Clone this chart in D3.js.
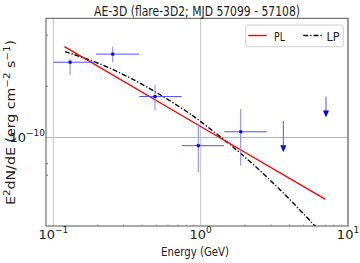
<!DOCTYPE html>
<html><head><meta charset="utf-8">
<script src="https://cdn.jsdelivr.net/npm/d3@7"></script>
<style>body{margin:0;background:#fff}svg{display:block}text{font-family:"DejaVu Sans",sans-serif;fill:#222}</style>
</head><body><svg id="c" width="360" height="263"></svg>
<script>
// ---- data ----
const titleText = "AE-3D (flare-3D2; MJD 57099 - 57108)";
const xLabelText = "Energy (GeV)";
const xTicks = [0.1, 1, 10];
const xTickExp = ["\u22121", "0", "1"];
const yTicks = [1e-10];
const yTickExp = ["\u221210"];
const yMinorTicks = [6e-11, 7e-11, 2e-10, 4e-10];
// flux points
const ptE    = [0.130, 0.253, 0.490, 0.964, 1.87];
const ptELo  = [0.100, 0.195, 0.383, 0.744, 1.447];
const ptEHi  = [0.189, 0.382, 0.744, 1.44, 2.81];
const ptF    = [2.77e-10, 3.09e-10, 1.74e-10, 8.95e-11, 1.08e-10];
const ptFLo  = [2.33e-10, 2.77e-10, 1.45e-10, 6.24e-11, 6.83e-11];
const ptFHi  = [2.90e-10, 3.42e-10, 2.04e-10, 1.21e-10, 1.47e-10];
// upper limits
const ulE    = [3.64, 7.09];
const ulTop  = [1.25e-10, 1.74e-10];
const ulTip  = [8.18e-11, 1.31e-10];
// model curves
const plE = [0.119, 1.0, 7.0];
const plF = [3.42e-10, 1.16e-10, 4.34e-11];
const lpE = [0.120, 0.200, 0.316, 0.500, 0.794, 1.0, 1.585, 2.512, 3.98, 6.31, 7.0];
const lpF = [3.20e-10, 2.74e-10, 2.29e-10, 1.84e-10, 1.43e-10, 1.24e-10, 9.08e-11, 6.41e-11, 4.36e-11, 2.86e-11, 2.59e-11];
const legendNames = ["PL", "LP"];

// ---- layout ----
const L = 46, R = 348, T = 18.3, B = 226;
const svg = d3.select("#c");
const x = d3.scaleLog().domain([0.0892, 10]).range([L, R]);
const y = d3.scaleLog().domain([3.015e-11, 5.02e-10]).range([B, T]);

svg.append("defs").append("clipPath").attr("id","clip")
  .append("rect").attr("x",L).attr("y",T).attr("width",R-L).attr("height",B-T);

// grid
const g = svg.append("g");
g.selectAll(".gx").data(xTicks).join("line")
  .attr("x1",d=>x(d)).attr("x2",d=>x(d)).attr("y1",T).attr("y2",B)
  .attr("stroke","#c4c4c4").attr("stroke-width",1);
g.selectAll(".gy").data(yTicks).join("line")
  .attr("x1",L).attr("x2",R).attr("y1",d=>y(d)).attr("y2",d=>y(d))
  .attr("stroke","#b4b4b4").attr("stroke-width",1);

// x minor ticks
const xMinor = [];
[0.1,1].forEach(b=>{for(let k=2;k<10;k++) xMinor.push(b*k);});
g.selectAll(".mx").data(xMinor).join("line")
  .attr("x1",d=>x(d)).attr("x2",d=>x(d)).attr("y1",B).attr("y2",B-2)
  .attr("stroke","#999").attr("stroke-width",0.6);
// y minor ticks
g.selectAll(".my").data(yMinorTicks).join("line")
  .attr("x1",L).attr("x2",L+2).attr("y1",d=>y(d)).attr("y2",d=>y(d))
  .attr("stroke","#555").attr("stroke-width",0.8);

// curves
const line = d3.line().x(d=>x(d[0])).y(d=>y(d[1])).curve(d3.curveCatmullRom);
const cg = svg.append("g").attr("clip-path","url(#clip)");
cg.append("path").datum(lpE.map((e,i)=>[e,lpF[i]])).attr("d",line)
  .attr("fill","none").attr("stroke","#000").attr("stroke-width",1.4)
  .attr("stroke-dasharray","5,2,1.2,2");
cg.append("path").datum(plE.map((e,i)=>[e,plF[i]])).attr("d",d3.line().x(d=>x(d[0])).y(d=>y(d[1])))
  .attr("fill","none").attr("stroke","#ff0000").attr("stroke-width",1.4);

// error bars
const eb = svg.append("g");
ptE.forEach((e,i)=>{
  eb.append("line").attr("x1",x(e)).attr("x2",x(e)).attr("y1",y(ptFLo[i])).attr("y2",y(ptFHi[i]))
    .attr("stroke","#8080ff").attr("stroke-width",1);
  eb.append("line").attr("x1",x(ptELo[i])).attr("x2",x(ptEHi[i])).attr("y1",y(ptF[i])).attr("y2",y(ptF[i]))
    .attr("stroke","#5050ff").attr("stroke-width",1);
  eb.append("rect").attr("x",x(e)-1.5).attr("y",y(ptF[i])-1.5).attr("width",3).attr("height",3)
    .attr("fill","#0000ff");
});
ulE.forEach((e,i)=>{
  const xp = x(e), yt = y(ulTop[i]), yb = y(ulTip[i]);
  eb.append("line").attr("x1",xp).attr("x2",xp).attr("y1",yt).attr("y2",yb-5)
    .attr("stroke","#5050ff").attr("stroke-width",1);
  eb.append("path").attr("d",`M${xp-3},${yb-7}L${xp+3},${yb-7}L${xp},${yb}Z`).attr("fill","#0000ff");
});

// spines
svg.append("rect").attr("x",L).attr("y",T).attr("width",R-L).attr("height",B-T)
  .attr("fill","none").attr("stroke","#555").attr("stroke-width",1);

// tick labels
xTicks.forEach((d,i)=>{
  const t = svg.append("text").attr("x",x(d)).attr("y",238.5).attr("text-anchor","middle").attr("font-size",13);
  t.append("tspan").text("10");
  t.append("tspan").attr("dy",-5.5).attr("font-size",9).text(xTickExp[i]);
});
yTicks.forEach((d,i)=>{
  const t = svg.append("text").attr("x",L-1).attr("y",y(d)+4.5).attr("text-anchor","end").attr("font-size",13);
  t.append("tspan").text("10");
  t.append("tspan").attr("dy",-5.5).attr("font-size",9).text(yTickExp[i]);
});

// title & labels
svg.append("text").attr("x",197).attr("y",15.5).attr("text-anchor","middle").attr("font-size",14)
  .attr("textLength",206).attr("lengthAdjust","spacingAndGlyphs").text(titleText);
svg.append("text").attr("x",195).attr("y",256).attr("text-anchor","middle").attr("font-size",13)
  .attr("textLength",68).attr("lengthAdjust","spacingAndGlyphs").text(xLabelText);
const yl = svg.append("text").attr("transform","translate(14.5,122.5) rotate(-90)").attr("text-anchor","middle")
  .attr("font-size",12.5).attr("textLength",165).attr("lengthAdjust","spacingAndGlyphs");
yl.append("tspan").text("E");
yl.append("tspan").attr("dy",-5).attr("font-size",9).text("2");
yl.append("tspan").attr("dy",5).text("dN/dE (erg cm");
yl.append("tspan").attr("dy",-5).attr("font-size",9).text("\u22122");
yl.append("tspan").attr("dy",5).text(" s");
yl.append("tspan").attr("dy",-5).attr("font-size",9).text("\u22121");
yl.append("tspan").attr("dy",5).text(")");

// legend
const lg = svg.append("g");
lg.append("rect").attr("x",245.7).attr("y",25).attr("width",97.6).attr("height",21.7).attr("rx",2)
  .attr("fill","#fff").attr("fill-opacity",0.8).attr("stroke","#d0d0d0").attr("stroke-width",1);
lg.append("line").attr("x1",248.3).attr("x2",266.7).attr("y1",35.5).attr("y2",35.5)
  .attr("stroke","#ff0000").attr("stroke-width",1.4);
lg.append("text").attr("x",274).attr("y",40.5).attr("font-size",12).attr("textLength",11).attr("lengthAdjust","spacingAndGlyphs").text(legendNames[0]);
lg.append("line").attr("x1",303.3).attr("x2",321.7).attr("y1",35.5).attr("y2",35.5)
  .attr("stroke","#000").attr("stroke-width",1.4).attr("stroke-dasharray","5,2,1.2,2");
lg.append("text").attr("x",326.5).attr("y",40.5).attr("font-size",12).attr("textLength",13).attr("lengthAdjust","spacingAndGlyphs").text(legendNames[1]);
</script></body></html>
